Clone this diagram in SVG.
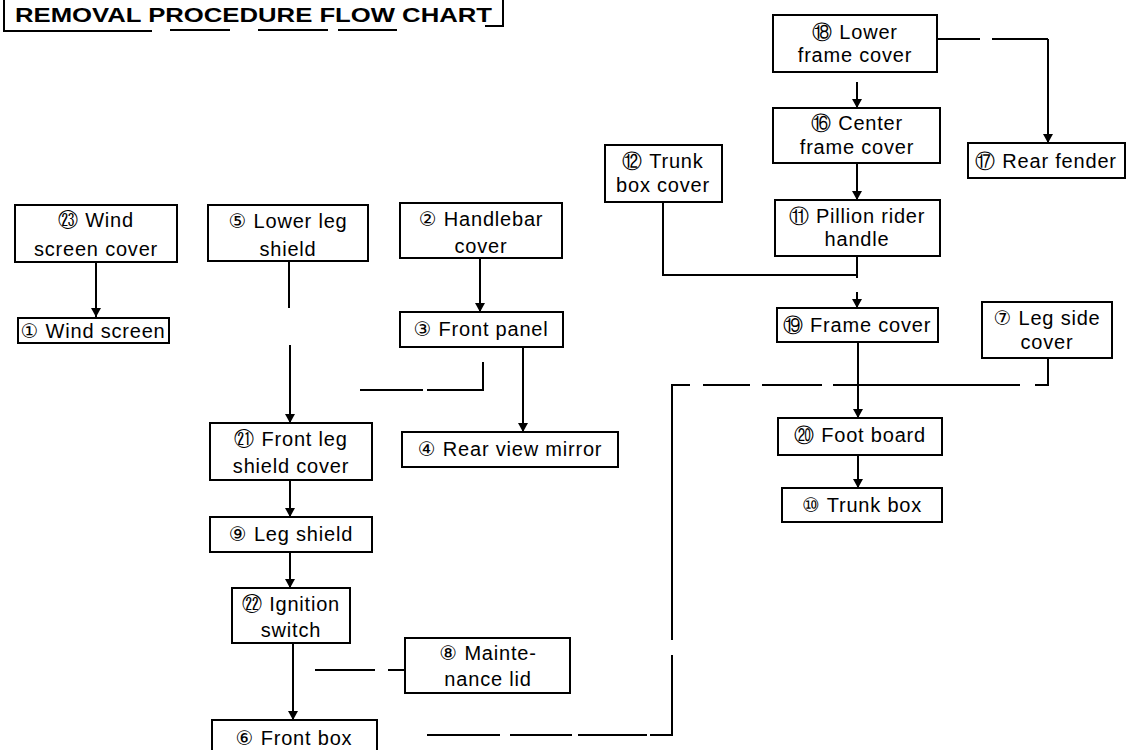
<svg xmlns="http://www.w3.org/2000/svg" width="1129" height="750" viewBox="0 0 1129 750">
<defs>
<style>
.bx{fill:#fff;stroke:#000;stroke-width:2}
.t{font-family:"Liberation Sans","DejaVu Sans",sans-serif;font-size:20px;letter-spacing:0.8px;fill:#000;text-anchor:middle}
.ln{fill:none;stroke:#000;stroke-width:2}
.ar{fill:none;stroke:#000;stroke-width:2;marker-end:url(#ah)}
.ttl{font-family:"Liberation Sans","DejaVu Sans",sans-serif;font-size:20px;font-weight:bold;fill:#000}
</style>
<marker id="ah" markerUnits="userSpaceOnUse" markerWidth="10" markerHeight="10" refX="9" refY="5" orient="auto">
<path d="M0,0 L9,5 L0,10 z" fill="#000"/>
</marker>
</defs>
<rect width="1129" height="750" fill="#fff"/>

<g id="title">
<text class="ttl" x="15" y="22" textLength="477" lengthAdjust="spacingAndGlyphs">REMOVAL PROCEDURE FLOW CHART</text>
<path class="ln" d="M4,0 V31 H152 M170,30 H230 M258,30 H328 M338,30 H397 M485,26 H503 V0"/>
</g>

<g id="connectors">
<path class="ar" d="M96,262 V317"/>
<path class="ln" d="M289,261 V308"/>
<path class="ar" d="M290,345 V423"/>
<path class="ar" d="M480,258 V312"/>
<path class="ln" d="M483,362 V390 H427 M423,390 H360"/>
<path class="ar" d="M523,347 V432"/>
<path class="ar" d="M290,480 V517"/>
<path class="ar" d="M290,552 V588"/>
<path class="ar" d="M293,643 V720"/>
<path class="ln" d="M407,670 H388 M375,670 H315"/>
<path class="ln" d="M427,735 H500 M510,735 H572 M578,735 H647 M650,735 H672 V655 M672,640 V385 H690 M703,385 H750 M762,385 H822 M833,385 H1020 M1035,385 H1048 V358"/>
<path class="ln" d="M937,39 H980 M992,39 H1048"/>
<path class="ar" d="M1048,39 V143"/>
<path class="ar" d="M857,82 V108"/>
<path class="ar" d="M857,163 V200"/>
<path class="ln" d="M663,202 V275 H857 M857,256 V278"/>
<path class="ar" d="M857,292 V308"/>
<path class="ar" d="M858,342 V418"/>
<path class="ar" d="M858,455 V488"/>
</g>

<g id="n_wind_screen_cover">
<rect class="bx" x="15" y="205" width="162" height="57"/>
<text class="t" x="96" y="227">㉓ Wind</text>
<text class="t" x="96" y="256">screen cover</text>
</g>
<g id="n_wind_screen">
<rect class="bx" x="18" y="318" width="151" height="25"/>
<text class="t" x="93" y="338">① Wind screen</text>
</g>
<g id="n_lower_leg_shield">
<rect class="bx" x="208" y="205" width="160" height="56"/>
<text class="t" x="288" y="228">⑤ Lower leg</text>
<text class="t" x="288" y="256">shield</text>
</g>
<g id="n_handlebar_cover">
<rect class="bx" x="400" y="203" width="162" height="55"/>
<text class="t" x="481" y="226">② Handlebar</text>
<text class="t" x="481" y="253">cover</text>
</g>
<g id="n_front_panel">
<rect class="bx" x="400" y="312" width="163" height="35"/>
<text class="t" x="481" y="336">③ Front panel</text>
</g>
<g id="n_rear_view_mirror">
<rect class="bx" x="402" y="432" width="216" height="35"/>
<text class="t" x="510" y="456">④ Rear view mirror</text>
</g>
<g id="n_front_leg_shield_cover">
<rect class="bx" x="210" y="423" width="162" height="57"/>
<text class="t" x="291" y="446">㉑ Front leg</text>
<text class="t" x="291" y="473">shield cover</text>
</g>
<g id="n_leg_shield">
<rect class="bx" x="210" y="517" width="162" height="35"/>
<text class="t" x="291" y="541">⑨ Leg shield</text>
</g>
<g id="n_ignition_switch">
<rect class="bx" x="232" y="588" width="118" height="55"/>
<text class="t" x="291" y="611">㉒ Ignition</text>
<text class="t" x="291" y="637">switch</text>
</g>
<g id="n_maintenance_lid">
<rect class="bx" x="405" y="638" width="165" height="55"/>
<text class="t" x="488" y="660">⑧ Mainte-</text>
<text class="t" x="488" y="686">nance lid</text>
</g>
<g id="n_front_box">
<rect class="bx" x="212" y="720" width="165" height="45"/>
<text class="t" x="294" y="745">⑥ Front box</text>
</g>
<g id="n_lower_frame_cover">
<rect class="bx" x="773" y="15" width="164" height="57"/>
<text class="t" x="855" y="39">⑱ Lower</text>
<text class="t" x="855" y="62">frame cover</text>
</g>
<g id="n_rear_fender">
<rect class="bx" x="968" y="143" width="157" height="35"/>
<text class="t" x="1046" y="168">⑰ Rear fender</text>
</g>
<g id="n_center_frame_cover">
<rect class="bx" x="773" y="108" width="167" height="55"/>
<text class="t" x="857" y="130">⑯ Center</text>
<text class="t" x="857" y="154">frame cover</text>
</g>
<g id="n_trunk_box_cover">
<rect class="bx" x="605" y="145" width="117" height="57"/>
<text class="t" x="663" y="168">⑫ Trunk</text>
<text class="t" x="663" y="192">box cover</text>
</g>
<g id="n_pillion_rider_handle">
<rect class="bx" x="775" y="200" width="165" height="56"/>
<text class="t" x="857" y="223">⑪ Pillion rider</text>
<text class="t" x="857" y="246">handle</text>
</g>
<g id="n_frame_cover">
<rect class="bx" x="777" y="308" width="161" height="34"/>
<text class="t" x="857" y="332">⑲ Frame cover</text>
</g>
<g id="n_leg_side_cover">
<rect class="bx" x="982" y="302" width="130" height="56"/>
<text class="t" x="1047" y="325">⑦ Leg side</text>
<text class="t" x="1047" y="349">cover</text>
</g>
<g id="n_foot_board">
<rect class="bx" x="778" y="418" width="164" height="37"/>
<text class="t" x="860" y="442">⑳ Foot board</text>
</g>
<g id="n_trunk_box">
<rect class="bx" x="782" y="488" width="160" height="34"/>
<text class="t" x="862" y="512">⑩ Trunk box</text>
</g>
</svg>
